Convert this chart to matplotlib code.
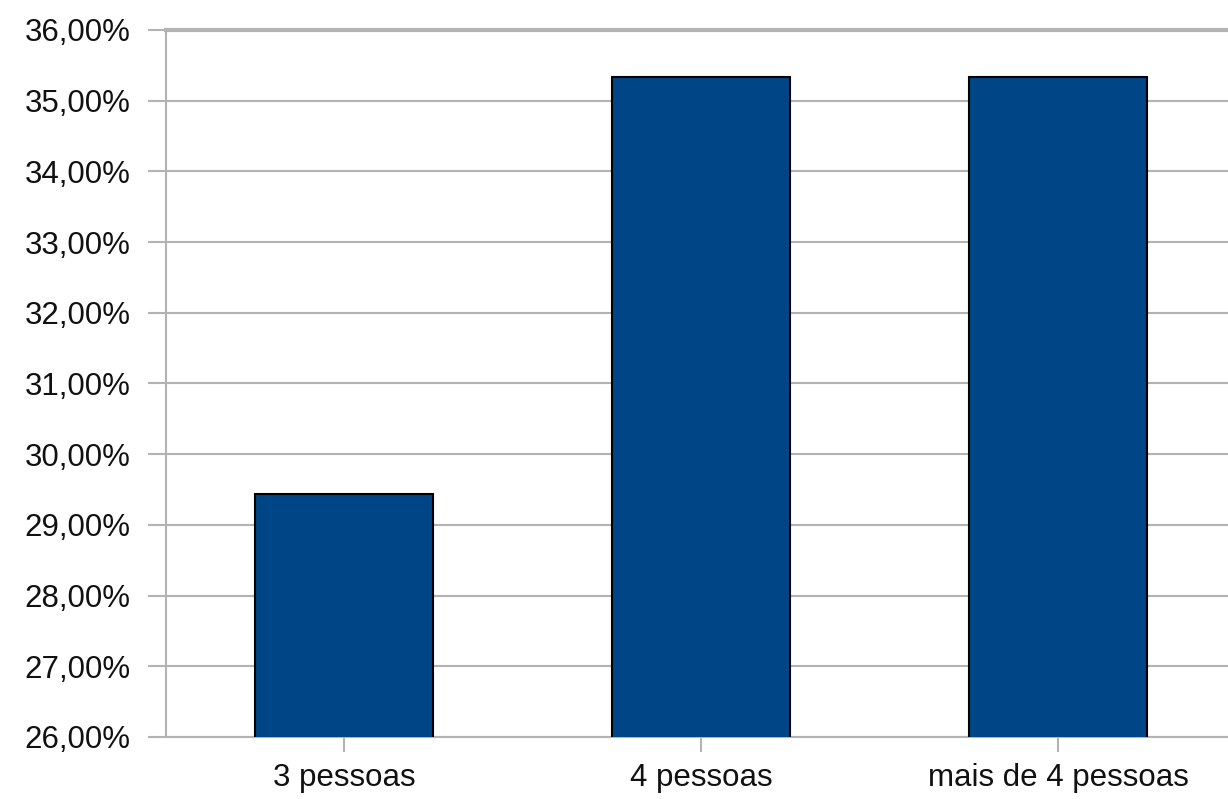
import matplotlib.pyplot as plt
from matplotlib.ticker import FuncFormatter

categories = ["3 pessoas", "4 pessoas", "mais de 4 pessoas"]
values = [29.44, 35.34, 35.34]
y_ticks = [26, 27, 28, 29, 30, 31, 32, 33, 34, 35, 36]

plt.rcParams['font.family'] = ['Liberation Sans', 'DejaVu Sans']

fig = plt.figure(figsize=(12.28, 7.99), dpi=100)
ax = fig.add_axes([0.1348, 0.0776, 0.8721, 0.8849])

grid_color = "#b3b3b3"

x = range(len(categories))
ax.bar(x, values, width=0.5, color="#004586", edgecolor="black",
       linewidth=1.5, zorder=3)

ax.set_xlim(-0.5, len(categories) - 0.5)
ax.set_ylim(y_ticks[0], y_ticks[-1])
ax.set_yticks(y_ticks)
ax.yaxis.set_major_formatter(FuncFormatter(lambda v, p: f"{v:.2f}%".replace(".", ",")))
ax.set_xticks(list(x))
ax.set_xticklabels(categories)

ax.grid(axis="y", color=grid_color, linewidth=1.5, zorder=0)
for side in ["left", "bottom", "top", "right"]:
    ax.spines[side].set_color(grid_color)
    ax.spines[side].set_linewidth(1.5)
ax.spines["top"].set_linewidth(3)

ax.tick_params(axis="y", length=13, width=1.5, color=grid_color, pad=12,
               labelsize=22.5, labelcolor="#111111")
ax.tick_params(axis="x", length=11, width=1.5, color=grid_color, pad=8,
               labelsize=22.5, labelcolor="#111111")

fig.savefig("out.png", dpi=100)
